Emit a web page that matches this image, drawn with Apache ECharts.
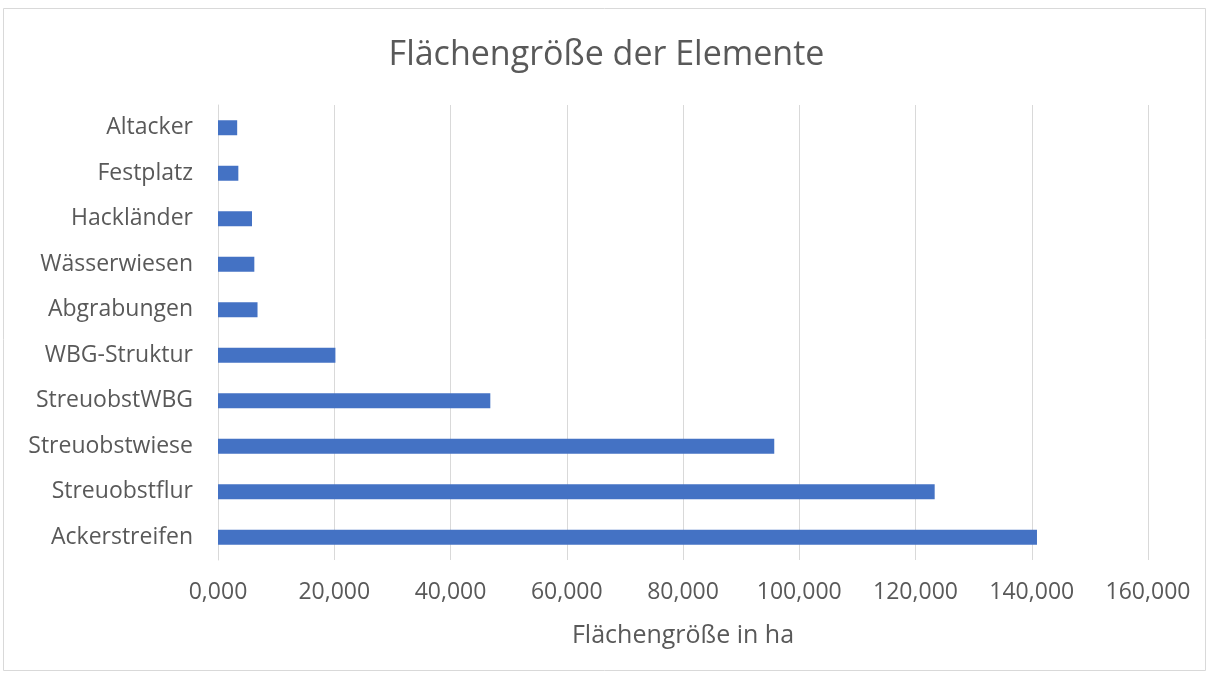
<!DOCTYPE html>
<html>
<head>
<meta charset="utf-8">
<script src="https://cdn.jsdelivr.net/npm/echarts@6/dist/echarts.min.js"></script>
<style>
  html, body { margin: 0; padding: 0; background: #fff; }
  #chart { width: 1213px; height: 675px; }
</style>
</head>
<body>
<div id="chart"></div>
<script>
// Element names, listed top to bottom
const categories = [
  'Altacker', 'Festplatz', 'Hackländer', 'Wässerwiesen', 'Abgrabungen',
  'WBG-Struktur', 'StreuobstWBG', 'Streuobstwiese', 'Streuobstflur', 'Ackerstreifen'
];
// Area per element in ha
const areas = [3300, 3500, 5850, 6250, 6800, 20200, 46850, 95700, 123300, 140900];

const titleText = 'Flächengröße der Elemente';
const axisName = 'Flächengröße in ha';
const fontFamily = '"Open Sans", "Noto Sans", sans-serif';
const textColor = '#595959';

const chart = echarts.init(document.getElementById('chart'), null, { renderer: 'canvas' });

chart.setOption({
  backgroundColor: '#ffffff',
  animation: false,
  title: {
    text: titleText,
    left: 'center',
    top: 33,
    textStyle: { fontFamily, fontSize: 34, fontWeight: 'normal', color: textColor }
  },
  graphic: [{
    type: 'rect',
    shape: { x: 3.5, y: 8.5, width: 1202, height: 662 },
    style: { fill: null, stroke: '#d9d9d9', lineWidth: 1 },
    silent: true
  }],
  grid: { left: 218, right: 65, top: 105, bottom: 115, containLabel: false },
  xAxis: {
    type: 'value',
    min: 0,
    max: 160000,
    interval: 20000,
    name: axisName,
    nameLocation: 'middle',
    nameGap: 63,
    nameTextStyle: { fontFamily, fontSize: 25, color: textColor },
    axisLine: { show: false },
    axisTick: { show: false },
    axisLabel: {
      margin: 21,
      fontFamily,
      fontSize: 23,
      color: textColor,
      formatter: v => (v / 1000).toFixed(3).replace('.', ',')
    },
    splitLine: { show: true, lineStyle: { color: '#d9d9d9', width: 1 } }
  },
  yAxis: {
    type: 'category',
    data: categories,
    inverse: true,
    axisLine: { show: true, lineStyle: { color: '#d9d9d9' } },
    axisTick: { show: false },
    axisLabel: { margin: 25, fontFamily, fontSize: 23, color: textColor }
  },
  series: [{
    type: 'bar',
    data: areas,
    barWidth: 15,
    itemStyle: { color: '#4472c4' }
  }]
});
</script>
</body>
</html>
